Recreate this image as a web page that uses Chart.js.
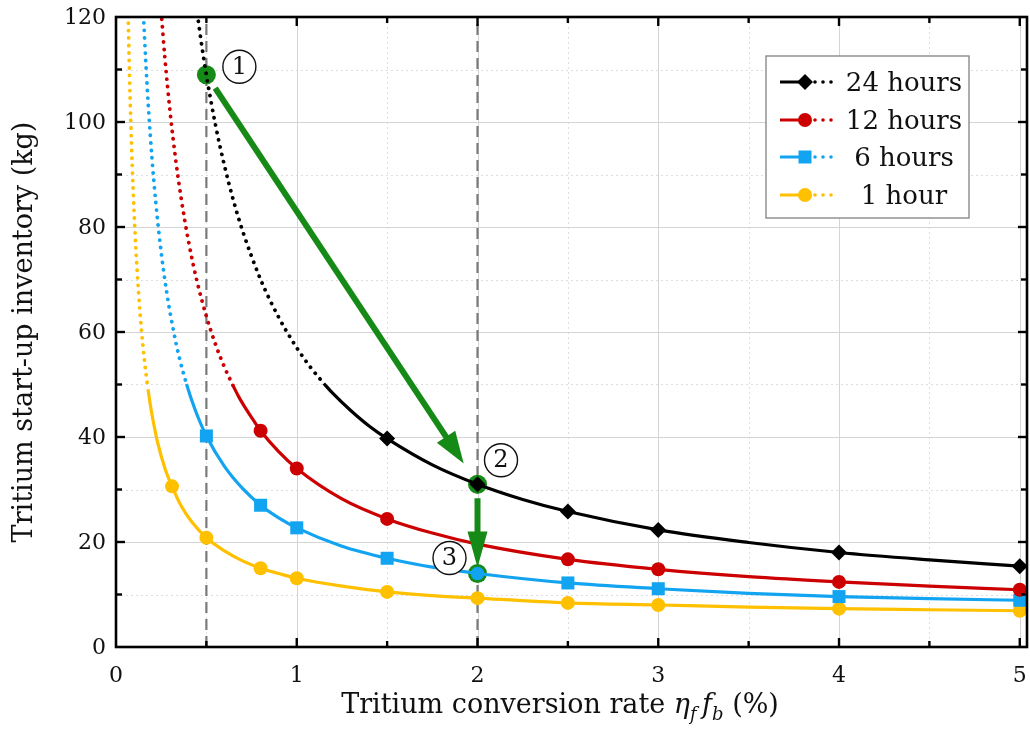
<!DOCTYPE html>
<html>
<head>
<meta charset="utf-8">
<script src="https://cdn.jsdelivr.net/npm/chart.js@4.4.1/dist/chart.umd.min.js"></script>
<style>
  html, body { margin: 0; padding: 0; background: #fff; }
  canvas { display: block; }
</style>
</head>
<body>
<canvas id="c" width="1030" height="733"></canvas>
<script>
// ---- axis ticks ----
const xTicks = [0, 1, 2, 3, 4, 5];
const xMinorTicks = [0.5, 1.5, 2.5, 3.5, 4.5];
const yTicks = [0, 20, 40, 60, 80, 100, 120];
const yMinorTicks = [10, 30, 50, 70, 90, 110];

// ---- series: tritium start-up inventory (kg) vs conversion rate (%) ----
const seriesNames = ['24 hours', '12 hours', '6 hours', '1 hour'];

const x24 = [0.45, 0.47, 0.5, 0.55, 0.6, 0.65, 0.7, 0.8, 0.9, 1.0, 1.08, 1.15, 1.2, 1.3, 1.4, 1.5, 1.75, 2, 2.25, 2.5, 3, 3.5, 4, 4.5, 5];
const y24 = [120.6, 115.6, 109.0, 99.5, 91.7, 85.0, 79.3, 70.0, 62.8, 57.0, 53.1, 50.2, 48.3, 45.0, 42.1, 39.7, 34.7, 31.0, 28.1, 25.8, 22.3, 19.9, 18.0, 16.6, 15.4];
const marks24 = [1.5, 2, 2.5, 3, 4, 5];

const x12 = [0.25, 0.27, 0.3, 0.33, 0.36, 0.4, 0.45, 0.5, 0.55, 0.6, 0.62, 0.65, 0.68, 0.72, 0.76, 0.8, 0.9, 1.0, 1.25, 1.5, 1.75, 2, 2.5, 3, 3.5, 4, 4.5, 5];
const y12 = [121.0, 112.4, 101.7, 92.9, 85.6, 77.5, 69.4, 63.0, 57.7, 53.3, 51.8, 49.6, 47.6, 45.3, 43.2, 41.2, 37.2, 34.0, 28.2, 24.4, 21.7, 19.6, 16.7, 14.8, 13.4, 12.4, 11.6, 10.9];
const marks12 = [0.8, 1, 1.5, 2.5, 3, 4, 5];

const x6 = [0.152, 0.165, 0.18, 0.2, 0.22, 0.25, 0.28, 0.32, 0.35, 0.37, 0.39, 0.42, 0.45, 0.5, 0.6, 0.7, 0.8, 0.9, 1.0, 1.25, 1.5, 1.75, 2, 2.5, 3, 3.5, 4, 4.5, 5];
const y6 = [120.3, 111.3, 102.4, 92.7, 84.7, 75.2, 67.7, 59.9, 55.2, 52.5, 50.1, 46.9, 44.1, 40.2, 34.4, 30.2, 27.0, 24.6, 22.7, 19.2, 16.9, 15.2, 14.0, 12.2, 11.1, 10.2, 9.6, 9.2, 8.9];
const marks6 = [0.5, 0.8, 1, 1.5, 2.5, 3, 4, 5];

const x1 = [0.065, 0.07, 0.075, 0.082, 0.09, 0.1, 0.11, 0.125, 0.14, 0.158, 0.168, 0.177, 0.19, 0.2, 0.215, 0.23, 0.27, 0.31, 0.36, 0.42, 0.5, 0.6, 0.7, 0.8, 0.9, 1.0, 1.25, 1.5, 1.75, 2, 2.5, 3, 3.5, 4, 4.5, 5];
const y1 = [124.6, 116.1, 108.7, 99.9, 91.5, 82.9, 75.8, 67.4, 60.7, 54.4, 51.5, 49.1, 46.1, 44.1, 41.4, 39.0, 34.1, 30.6, 26.9, 23.8, 20.8, 18.3, 16.4, 15.0, 14.0, 13.1, 11.6, 10.5, 9.8, 9.3, 8.4, 8.0, 7.6, 7.3, 7.1, 6.9];
const marks1 = [0.31, 0.5, 0.8, 1, 1.5, 2, 2.5, 3, 4, 5];

// conversion rate where each curve turns from dotted to solid
const solidFrom = [1.15, 0.65, 0.39, 0.177];

// reference conversion rates (dashed verticals)
const refRates = [0.5, 2];

// ---- styling ----
const colors = ['#000000', '#cc0000', '#12a4f0', '#ffc000'];
const pointStyles = ['rectRot', 'circle', 'rect', 'circle'];
const pointRadii = [8, 7, 9.2, 7];
const GREEN = '#168a16';
const SERIF = '"DejaVu Serif", "Liberation Serif", serif';

const seriesX = [x24, x12, x6, x1];
const seriesY = [y24, y12, y6, y1];
const seriesMarks = [marks24, marks12, marks6, marks1];

const pts = (xs, ys) => xs.map((v, i) => ({ x: v, y: ys[i] }));
const valueAt = (s, xv) => seriesY[s][seriesX[s].indexOf(xv)];

// step annotations: (1) 24 h at 0.5 %, (2) 24 h at 2 %, (3) 6 h at 2 %
const steps = [
  { x: 0.5, y: valueAt(0, 0.5) },
  { x: 2, y: valueAt(0, 2) },
  { x: 2, y: valueAt(2, 2) }
];

const markerSets = [];
const solidSets = [];
const dottedSets = [];
seriesX.forEach((xs, s) => {
  const all = pts(xs, seriesY[s]);
  markerSets.push({
    data: all.filter(p => seriesMarks[s].includes(p.x)),
    showLine: false,
    pointStyle: pointStyles[s],
    pointRadius: pointRadii[s],
    pointBackgroundColor: colors[s],
    pointBorderWidth: 0,
    clip: false
  });
  solidSets.push({
    data: all.filter(p => p.x >= solidFrom[s]),
    borderColor: colors[s],
    borderWidth: 3.2,
    pointRadius: 0,
    cubicInterpolationMode: 'monotone'
  });
  dottedSets.push({
    data: all.filter(p => p.x <= solidFrom[s]),
    borderColor: colors[s],
    borderWidth: 3.8,
    borderDash: [0.1, 7.4],
    borderCapStyle: 'round',
    pointRadius: 0,
    cubicInterpolationMode: 'monotone'
  });
});

function drawMarker(ctx, style, r, x, y, color) {
  ctx.fillStyle = color;
  ctx.beginPath();
  if (style === 'circle') {
    ctx.arc(x, y, r, 0, Math.PI * 2);
  } else if (style === 'rect') {
    const h = r * Math.SQRT1_2;
    ctx.rect(x - h, y - h, 2 * h, 2 * h);
  } else {
    ctx.moveTo(x, y - r); ctx.lineTo(x + r, y); ctx.lineTo(x, y + r); ctx.lineTo(x - r, y); ctx.closePath();
  }
  ctx.fill();
}

function seg(ctx, x0, y0, x1, y1) {
  ctx.beginPath(); ctx.moveTo(x0, y0); ctx.lineTo(x1, y1); ctx.stroke();
}

function arrow(ctx, x0, y0, x1, y1, headLen, headHalf, width) {
  const dx = x1 - x0, dy = y1 - y0, L = Math.hypot(dx, dy);
  const ux = dx / L, uy = dy / L;
  const bx = x1 - ux * headLen, by = y1 - uy * headLen;
  ctx.strokeStyle = GREEN; ctx.fillStyle = GREEN;
  ctx.lineWidth = width; ctx.lineCap = 'butt';
  seg(ctx, x0, y0, bx + ux * 2, by + uy * 2);
  ctx.beginPath();
  ctx.moveTo(x1, y1);
  ctx.lineTo(bx - uy * headHalf, by + ux * headHalf);
  ctx.lineTo(bx + uy * headHalf, by - ux * headHalf);
  ctx.closePath();
  ctx.fill();
}

function circledNumber(ctx, cx, cy, txt) {
  ctx.beginPath();
  ctx.arc(cx, cy, 16.5, 0, Math.PI * 2);
  ctx.fillStyle = '#fff'; ctx.fill();
  ctx.lineWidth = 1.4; ctx.strokeStyle = '#111'; ctx.stroke();
  ctx.fillStyle = '#111';
  ctx.font = '24px ' + SERIF;
  ctx.textAlign = 'center'; ctx.textBaseline = 'middle';
  ctx.fillText(txt, cx, cy + 1);
}

const decorations = {
  id: 'decorations',
  beforeDatasetsDraw(chart) {
    const { ctx, chartArea: a, scales: { x, y } } = chart;
    ctx.save();
    // minor grid (dotted)
    ctx.lineWidth = 1; ctx.strokeStyle = '#dedede'; ctx.setLineDash([2, 3]);
    xMinorTicks.forEach(v => { const p = Math.round(x.getPixelForValue(v)) + 0.5; seg(ctx, p, a.top, p, a.bottom); });
    yMinorTicks.forEach(v => { const p = Math.round(y.getPixelForValue(v)) + 0.5; seg(ctx, a.left, p, a.right, p); });
    // major grid (solid)
    ctx.setLineDash([]); ctx.strokeStyle = '#d4d4d4';
    xTicks.forEach(v => { const p = Math.round(x.getPixelForValue(v)) + 0.5; seg(ctx, p, a.top, p, a.bottom); });
    yTicks.forEach(v => { const p = Math.round(y.getPixelForValue(v)) + 0.5; seg(ctx, a.left, p, a.right, p); });
    // dashed reference rates
    ctx.strokeStyle = '#7a7a7a'; ctx.lineWidth = 2.2; ctx.setLineDash([11, 6]);
    refRates.forEach(v => { const p = x.getPixelForValue(v); seg(ctx, p, a.bottom, p, a.top); });
    ctx.setLineDash([]);
    // green halos under the step points
    steps.forEach(s => {
      ctx.beginPath();
      ctx.arc(x.getPixelForValue(s.x), y.getPixelForValue(s.y), 9.5, 0, Math.PI * 2);
      ctx.fillStyle = GREEN; ctx.fill();
    });
    ctx.restore();
  },
  afterDatasetsDraw(chart) {
    const { ctx, chartArea: a, scales: { x, y } } = chart;
    ctx.save();
    // step (3) point on the 6 h curve
    const s3x = x.getPixelForValue(steps[2].x), s3y = y.getPixelForValue(steps[2].y);
    ctx.beginPath(); ctx.arc(s3x, s3y, 6.8, 0, Math.PI * 2); ctx.fillStyle = colors[2]; ctx.fill();

    // frame and inward ticks
    ctx.strokeStyle = '#000'; ctx.lineWidth = 2.6;
    ctx.strokeRect(a.left, a.top, a.right - a.left, a.bottom - a.top);
    ctx.lineWidth = 2.4; ctx.lineCap = 'butt';
    const tick = (vals, len) => {
      vals.forEach(v => {
        const p = x.getPixelForValue(v);
        if (p > a.left + 2) { seg(ctx, p, a.bottom, p, a.bottom - len); seg(ctx, p, a.top, p, a.top + len); }
      });
    };
    tick(xTicks, 9); tick(xMinorTicks, 6);
    const ytick = (vals, len) => {
      vals.forEach(v => {
        const p = y.getPixelForValue(v);
        if (p < a.bottom - 2 && p > a.top + 2) { seg(ctx, a.left, p, a.left + len, p); seg(ctx, a.right, p, a.right - len, p); }
      });
    };
    ytick(yTicks, 9); ytick(yMinorTicks, 6);

    // arrows between steps
    const p1 = { x: x.getPixelForValue(steps[0].x), y: y.getPixelForValue(steps[0].y) };
    const p2 = { x: x.getPixelForValue(steps[1].x), y: y.getPixelForValue(steps[1].y) };
    const p3 = { x: s3x, y: s3y };
    const dx = p2.x - p1.x, dy = p2.y - p1.y, L = Math.hypot(dx, dy);
    const ux = dx / L, uy = dy / L;
    arrow(ctx, p1.x + ux * 16, p1.y + uy * 16, p2.x - ux * 25, p2.y - uy * 25, 32, 11, 6);
    arrow(ctx, p2.x, p2.y + 14, p3.x, p3.y - 6, 36, 10, 6);

    // circled step numbers
    circledNumber(ctx, p1.x + 33, p1.y - 8, '1');
    circledNumber(ctx, p2.x + 23.5, p2.y - 24, '2');
    circledNumber(ctx, p3.x - 28, p3.y - 15.5, '3');

    // tick labels
    ctx.fillStyle = '#111';
    ctx.font = '22px ' + SERIF;
    ctx.textAlign = 'center'; ctx.textBaseline = 'middle';
    xTicks.forEach(v => ctx.fillText(String(v), x.getPixelForValue(v), a.bottom + 29));
    ctx.textAlign = 'right';
    yTicks.forEach(v => ctx.fillText(String(v), a.left - 10, y.getPixelForValue(v) + 1));

    // y title
    ctx.save();
    ctx.translate(25, (a.top + a.bottom) / 2);
    ctx.rotate(-Math.PI / 2);
    ctx.font = '27px ' + SERIF;
    ctx.textAlign = 'center'; ctx.textBaseline = 'middle';
    ctx.fillText('Tritium start-up inventory (kg)', 0, 0);
    ctx.restore();

    // x title with subscripts
    const parts = [
      ['Tritium conversion rate ', '27px ' + SERIF, 0],
      ['\u03B7', 'italic 27px ' + SERIF, 0],
      ['f', 'italic 18px ' + SERIF, 7],
      ['\u2009f', 'italic 27px ' + SERIF, 0],
      ['b', 'italic 18px ' + SERIF, 7],
      [' (%)', '27px ' + SERIF, 0]
    ];
    let total = 0;
    parts.forEach(p => { ctx.font = p[1]; total += ctx.measureText(p[0]).width; });
    let cx = 560 - total / 2;
    ctx.textAlign = 'left'; ctx.textBaseline = 'alphabetic';
    parts.forEach(p => { ctx.font = p[1]; ctx.fillText(p[0], cx, 713 + p[2]); cx += ctx.measureText(p[0]).width; });

    // legend
    const lg = { l: 766, t: 56, r: 969, b: 218 };
    ctx.fillStyle = '#fff';
    ctx.fillRect(lg.l, lg.t, lg.r - lg.l, lg.b - lg.t);
    ctx.strokeStyle = '#8a8a8a'; ctx.lineWidth = 1.4;
    ctx.strokeRect(lg.l, lg.t, lg.r - lg.l, lg.b - lg.t);
    const rows = [82, 120, 157, 195];
    seriesNames.forEach((name, s) => {
      const ry = rows[s];
      ctx.strokeStyle = colors[s]; ctx.lineWidth = 3;
      seg(ctx, 780, ry, 805, ry);
      drawMarker(ctx, pointStyles[s], pointRadii[s], 805, ry, colors[s]);
      ctx.fillStyle = colors[s];
      [815, 823, 831].forEach(dx0 => { ctx.beginPath(); ctx.arc(dx0, ry, 1.8, 0, Math.PI * 2); ctx.fill(); });
      ctx.fillStyle = '#111';
      ctx.font = '26px ' + SERIF;
      ctx.textAlign = 'center'; ctx.textBaseline = 'alphabetic';
      ctx.fillText(name, 904, ry + 9);
    });
    ctx.restore();
  }
};

new Chart(document.getElementById('c'), {
  type: 'line',
  data: { datasets: [...markerSets, ...solidSets, ...dottedSets] },
  options: {
    responsive: false,
    animation: false,
    events: [],
    devicePixelRatio: 1,
    layout: { autoPadding: false, padding: { left: 116, right: 3, top: 17, bottom: 86 } },
    plugins: { legend: { display: false }, tooltip: { enabled: false } },
    scales: {
      x: { type: 'linear', min: 0, max: 5.04, display: false },
      y: { type: 'linear', min: 0, max: 120, display: false }
    }
  },
  plugins: [decorations]
});
</script>
</body>
</html>
